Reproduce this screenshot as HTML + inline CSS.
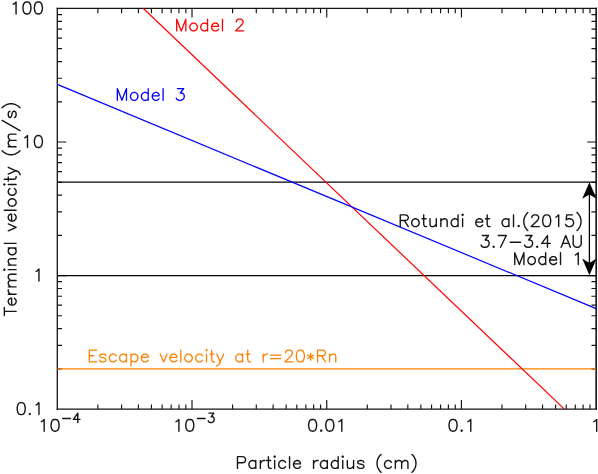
<!DOCTYPE html>
<html><head><meta charset="utf-8"><title>Terminal velocity vs particle radius</title>
<style>html,body{margin:0;padding:0;background:#fff;}body{width:598px;height:474px;overflow:hidden;font-family:"Liberation Sans",sans-serif;}svg{display:block;}</style>
</head><body>
<svg width="598" height="474" viewBox="0 0 598 474">
<rect width="598" height="474" fill="#fff"/>
<path d="M97.85 8.45v4.7M97.85 409.1v-4.7M121.57 8.45v4.7M121.57 409.1v-4.7M138.41 8.45v4.7M138.41 409.1v-4.7M151.46 8.45v4.7M151.46 409.1v-4.7M162.13 8.45v4.7M162.13 409.1v-4.7M171.15 8.45v4.7M171.15 409.1v-4.7M178.96 8.45v4.7M178.96 409.1v-4.7M185.85 8.45v4.7M185.85 409.1v-4.7M192.01 8.45v9.0M192.01 409.1v-9.0M232.57 8.45v4.7M232.57 409.1v-4.7M256.29 8.45v4.7M256.29 409.1v-4.7M273.12 8.45v4.7M273.12 409.1v-4.7M286.17 8.45v4.7M286.17 409.1v-4.7M296.84 8.45v4.7M296.84 409.1v-4.7M305.86 8.45v4.7M305.86 409.1v-4.7M313.67 8.45v4.7M313.67 409.1v-4.7M320.56 8.45v4.7M320.56 409.1v-4.7M326.73 8.45v9.0M326.73 409.1v-9.0M367.28 8.45v4.7M367.28 409.1v-4.7M391.00 8.45v4.7M391.00 409.1v-4.7M407.83 8.45v4.7M407.83 409.1v-4.7M420.88 8.45v4.7M420.88 409.1v-4.7M431.55 8.45v4.7M431.55 409.1v-4.7M440.57 8.45v4.7M440.57 409.1v-4.7M448.38 8.45v4.7M448.38 409.1v-4.7M455.27 8.45v4.7M455.27 409.1v-4.7M461.44 8.45v9.0M461.44 409.1v-9.0M501.99 8.45v4.7M501.99 409.1v-4.7M525.71 8.45v4.7M525.71 409.1v-4.7M542.54 8.45v4.7M542.54 409.1v-4.7M555.60 8.45v4.7M555.60 409.1v-4.7M566.26 8.45v4.7M566.26 409.1v-4.7M575.28 8.45v4.7M575.28 409.1v-4.7M583.10 8.45v4.7M583.10 409.1v-4.7M589.99 8.45v4.7M589.99 409.1v-4.7M57.3 368.90h4.7M596.15 368.90h-4.7M57.3 345.38h4.7M596.15 345.38h-4.7M57.3 328.69h4.7M596.15 328.69h-4.7M57.3 315.75h4.7M596.15 315.75h-4.7M57.3 305.18h4.7M596.15 305.18h-4.7M57.3 296.24h4.7M596.15 296.24h-4.7M57.3 288.49h4.7M596.15 288.49h-4.7M57.3 281.66h4.7M596.15 281.66h-4.7M57.3 275.55h9.0M596.15 275.55h-9.0M57.3 235.35h4.7M596.15 235.35h-4.7M57.3 211.83h4.7M596.15 211.83h-4.7M57.3 195.14h4.7M596.15 195.14h-4.7M57.3 182.20h4.7M596.15 182.20h-4.7M57.3 171.63h4.7M596.15 171.63h-4.7M57.3 162.69h4.7M596.15 162.69h-4.7M57.3 154.94h4.7M596.15 154.94h-4.7M57.3 148.11h4.7M596.15 148.11h-4.7M57.3 142.00h9.0M596.15 142.00h-9.0M57.3 101.80h4.7M596.15 101.80h-4.7M57.3 78.28h4.7M596.15 78.28h-4.7M57.3 61.59h4.7M596.15 61.59h-4.7M57.3 48.65h4.7M596.15 48.65h-4.7M57.3 38.08h4.7M596.15 38.08h-4.7M57.3 29.14h4.7M596.15 29.14h-4.7M57.3 21.39h4.7M596.15 21.39h-4.7M57.3 14.56h4.7M596.15 14.56h-4.7" fill="none" stroke="#141414" stroke-width="1.15"/>
<path d="M57.3 7.85V409.75" fill="none" stroke="#141414" stroke-width="1.3"/>
<path d="M596.15 7.85V409.75" fill="none" stroke="#141414" stroke-width="1.6"/>
<path d="M56.65 8.45H596.9499999999999" fill="none" stroke="#141414" stroke-width="1.2"/>
<path d="M56.65 409.1H596.9499999999999" fill="none" stroke="#141414" stroke-width="1.3"/>
<g fill="none" stroke-linecap="butt">
<line x1="57.3" y1="182.2" x2="596.15" y2="182.2" stroke="#000" stroke-width="1.25"/>
<line x1="57.3" y1="275.55" x2="596.15" y2="275.55" stroke="#000" stroke-width="1.25"/>
<line x1="57.3" y1="368.9" x2="596.15" y2="368.9" stroke="#ff8000" stroke-width="1.4"/>
<line x1="143.4" y1="8.45" x2="564.4" y2="409.1" stroke="#ff0000" stroke-width="1.2"/>
<line x1="57.3" y1="84.4" x2="596.15" y2="308.65" stroke="#0000ff" stroke-width="1.2"/>
</g>
<line x1="589.4" y1="190" x2="589.4" y2="268" stroke="#000" stroke-width="1.3"/>
<path d="M589.4 182.3 L582.1999999999999 198.8 L589.4 194.4 L596.6 198.8Z" fill="#000"/>
<path d="M589.4 275.2 L582.1999999999999 258.4 L589.4 263.1 L596.6 258.4Z" fill="#000"/>
<path d="M16.07 13.97 L16.07 1.96 L14.36 3.67 L13.21 4.25M22.94 8.82 L23.51 11.68 L24.65 13.40 L26.37 13.97 L27.51 13.97 L29.23 13.40 L30.37 11.68 L30.94 8.82 L30.94 7.11 L30.37 4.25 L29.23 2.53 L27.51 1.96 L26.37 1.96 L24.65 2.53 L23.51 4.25 L22.94 7.11 L22.94 8.82M34.38 8.82 L34.95 11.68 L36.09 13.40 L37.81 13.97 L38.95 13.97 L40.67 13.40 L41.81 11.68 L42.38 8.82 L42.38 7.11 L41.81 4.25 L40.67 2.53 L38.95 1.96 L37.81 1.96 L36.09 2.53 L34.95 4.25 L34.38 7.11 L34.38 8.82" fill="none" stroke="#151515" stroke-width="1.4" stroke-linecap="round" stroke-linejoin="round"/>
<path d="M27.51 147.52 L27.51 135.51 L25.80 137.22 L24.65 137.80M34.38 142.37 L34.95 145.23 L36.09 146.95 L37.81 147.52 L38.95 147.52 L40.67 146.95 L41.81 145.23 L42.38 142.37 L42.38 140.66 L41.81 137.80 L40.67 136.08 L38.95 135.51 L37.81 135.51 L36.09 136.08 L34.95 137.80 L34.38 140.66 L34.38 142.37" fill="none" stroke="#151515" stroke-width="1.4" stroke-linecap="round" stroke-linejoin="round"/>
<path d="M38.95 281.07 L38.95 269.06 L37.24 270.77 L36.09 271.35" fill="none" stroke="#151515" stroke-width="1.4" stroke-linecap="round" stroke-linejoin="round"/>
<path d="M17.22 409.47 L17.79 412.33 L18.93 414.05 L20.65 414.62 L21.79 414.62 L23.51 414.05 L24.65 412.33 L25.22 409.47 L25.22 407.76 L24.65 404.90 L23.51 403.18 L21.79 402.61 L20.65 402.61 L18.93 403.18 L17.79 404.90 L17.22 407.76 L17.22 409.47M29.23 414.05 L29.80 414.62 L30.37 414.05 L29.80 413.48 L29.23 414.05M38.95 414.62 L38.95 402.61 L37.24 404.32 L36.09 404.90" fill="none" stroke="#151515" stroke-width="1.4" stroke-linecap="round" stroke-linejoin="round"/>
<path d="M308.62 426.16 L309.19 428.96 L310.34 430.64 L312.05 431.20 L313.20 431.20 L314.91 430.64 L316.06 428.96 L316.63 426.16 L316.63 424.48 L316.06 421.68 L314.91 420.00 L313.20 419.44 L312.05 419.44 L310.34 420.00 L309.19 421.68 L308.62 424.48 L308.62 426.16M320.63 430.64 L321.21 431.20 L321.78 430.64 L321.21 430.08 L320.63 430.64M325.78 426.16 L326.35 428.96 L327.50 430.64 L329.21 431.20 L330.36 431.20 L332.07 430.64 L333.22 428.96 L333.79 426.16 L333.79 424.48 L333.22 421.68 L332.07 420.00 L330.36 419.44 L329.21 419.44 L327.50 420.00 L326.35 421.68 L325.78 424.48 L325.78 426.16M341.80 431.20 L341.80 419.44 L340.08 421.12 L338.94 421.68" fill="none" stroke="#151515" stroke-width="1.4" stroke-linecap="round" stroke-linejoin="round"/>
<path d="M449.05 426.16 L449.63 428.96 L450.77 430.64 L452.49 431.20 L453.63 431.20 L455.35 430.64 L456.49 428.96 L457.06 426.16 L457.06 424.48 L456.49 421.68 L455.35 420.00 L453.63 419.44 L452.49 419.44 L450.77 420.00 L449.63 421.68 L449.05 424.48 L449.05 426.16M461.07 430.64 L461.64 431.20 L462.21 430.64 L461.64 430.08 L461.07 430.64M470.79 431.20 L470.79 419.44 L469.07 421.12 L467.93 421.68" fill="none" stroke="#151515" stroke-width="1.4" stroke-linecap="round" stroke-linejoin="round"/>
<path d="M596.67 431.20 L596.67 419.44 L594.96 421.12 L593.81 421.68" fill="none" stroke="#151515" stroke-width="1.4" stroke-linecap="round" stroke-linejoin="round"/>
<path d="M44.19 431.20 L44.19 419.44 L42.48 421.12 L41.33 421.68M51.06 426.16 L51.63 428.96 L52.77 430.64 L54.49 431.20 L55.63 431.20 L57.35 430.64 L58.49 428.96 L59.06 426.16 L59.06 424.48 L58.49 421.68 L57.35 420.00 L55.63 419.44 L54.49 419.44 L52.77 420.00 L51.63 421.68 L51.06 424.48 L51.06 426.16" fill="none" stroke="#151515" stroke-width="1.4" stroke-linecap="round" stroke-linejoin="round"/>
<path d="M62.66 418.52 L70.43 418.52M77.77 422.55 L77.77 413.14 L73.45 419.41 L79.93 419.41" fill="none" stroke="#151515" stroke-width="1.4" stroke-linecap="round" stroke-linejoin="round"/>
<path d="M178.90 431.20 L178.90 419.44 L177.19 421.12 L176.04 421.68M185.77 426.16 L186.34 428.96 L187.48 430.64 L189.20 431.20 L190.34 431.20 L192.06 430.64 L193.20 428.96 L193.78 426.16 L193.78 424.48 L193.20 421.68 L192.06 420.00 L190.34 419.44 L189.20 419.44 L187.48 420.00 L186.34 421.68 L185.77 424.48 L185.77 426.16" fill="none" stroke="#151515" stroke-width="1.4" stroke-linecap="round" stroke-linejoin="round"/>
<path d="M197.37 418.52 L205.14 418.52M209.03 413.14 L213.78 413.14 L211.19 416.73 L212.49 416.73 L213.35 417.17 L213.78 417.62 L214.21 418.97 L214.21 419.86 L213.78 421.21 L212.92 422.10 L211.62 422.55 L210.33 422.55 L209.03 422.10 L208.60 421.65 L208.17 420.76" fill="none" stroke="#151515" stroke-width="1.4" stroke-linecap="round" stroke-linejoin="round"/>
<path d="M237.49 468.40 L237.49 456.64 L242.64 456.64 L244.35 457.20 L244.92 457.76 L245.50 458.88 L245.50 460.56 L244.92 461.68 L244.35 462.24 L242.64 462.80 L237.49 462.80M255.79 468.40 L255.79 460.56M255.79 466.72 L254.65 467.84 L253.50 468.40 L251.79 468.40 L250.64 467.84 L249.50 466.72 L248.93 465.04 L248.93 463.92 L249.50 462.24 L250.64 461.12 L251.79 460.56 L253.50 460.56 L254.65 461.12 L255.79 462.24M260.37 468.40 L260.37 460.56M260.37 463.92 L260.94 462.24 L262.08 461.12 L263.23 460.56 L264.94 460.56M268.38 456.64 L268.38 466.16 L268.95 467.84 L270.09 468.40 L271.24 468.40M266.66 460.56 L270.66 460.56M274.67 468.40 L274.67 460.56M274.10 456.64 L274.67 457.20 L275.24 456.64 L274.67 456.08 L274.10 456.64M285.54 466.72 L284.39 467.84 L283.25 468.40 L281.53 468.40 L280.39 467.84 L279.24 466.72 L278.67 465.04 L278.67 463.92 L279.24 462.24 L280.39 461.12 L281.53 460.56 L283.25 460.56 L284.39 461.12 L285.54 462.24M289.54 468.40 L289.54 456.64M300.41 466.72 L299.26 467.84 L298.12 468.40 L296.40 468.40 L295.26 467.84 L294.12 466.72 L293.54 465.04 L293.54 463.92 L300.41 463.92 L300.41 462.80 L299.84 461.68 L299.26 461.12 L298.12 460.56 L296.40 460.56 L295.26 461.12 L294.12 462.24 L293.54 463.92M313.56 468.40 L313.56 460.56M313.56 463.92 L314.14 462.24 L315.28 461.12 L316.42 460.56 L318.14 460.56M327.29 468.40 L327.29 460.56M327.29 466.72 L326.15 467.84 L325.00 468.40 L323.29 468.40 L322.14 467.84 L321.00 466.72 L320.43 465.04 L320.43 463.92 L321.00 462.24 L322.14 461.12 L323.29 460.56 L325.00 460.56 L326.15 461.12 L327.29 462.24M338.16 468.40 L338.16 456.64M338.16 466.72 L337.02 467.84 L335.87 468.40 L334.16 468.40 L333.01 467.84 L331.87 466.72 L331.30 465.04 L331.30 463.92 L331.87 462.24 L333.01 461.12 L334.16 460.56 L335.87 460.56 L337.02 461.12 L338.16 462.24M342.74 468.40 L342.74 460.56M342.16 456.64 L342.74 457.20 L343.31 456.64 L342.74 456.08 L342.16 456.64M353.60 468.40 L353.60 460.56M347.31 460.56 L347.31 466.16 L347.88 467.84 L349.03 468.40 L350.74 468.40 L351.89 467.84 L353.60 466.16M357.61 466.72 L358.18 467.84 L359.90 468.40 L361.61 468.40 L363.33 467.84 L363.90 466.72 L363.90 466.16 L363.33 465.04 L362.18 464.48 L359.32 463.92 L358.18 463.36 L357.61 462.24 L358.18 461.12 L359.90 460.56 L361.61 460.56 L363.33 461.12 L363.90 462.24M381.06 472.32 L379.92 471.20 L378.77 469.52 L377.63 467.28 L377.06 464.48 L377.06 462.24 L377.63 459.44 L378.77 457.20 L379.92 455.52 L381.06 454.40M391.36 466.72 L390.21 467.84 L389.07 468.40 L387.35 468.40 L386.21 467.84 L385.06 466.72 L384.49 465.04 L384.49 463.92 L385.06 462.24 L386.21 461.12 L387.35 460.56 L389.07 460.56 L390.21 461.12 L391.36 462.24M395.36 468.40 L395.36 460.56M401.65 468.40 L401.65 462.80 L403.37 461.12 L404.51 460.56 L406.23 460.56 L407.37 461.12 L407.94 462.80 L407.94 468.40M395.36 462.80 L397.08 461.12 L398.22 460.56 L399.94 460.56 L401.08 461.12 L401.65 462.80M411.95 472.32 L413.09 471.20 L414.24 469.52 L415.38 467.28 L415.95 464.48 L415.95 462.24 L415.38 459.44 L414.24 457.20 L413.09 455.52 L411.95 454.40" fill="none" stroke="#151515" stroke-width="1.4" stroke-linecap="round" stroke-linejoin="round"/>
<path d="M4.58 0.00 L4.58 -11.76M0.57 -11.76 L8.58 -11.76M17.73 -1.68 L16.59 -0.56 L15.44 0.00 L13.73 0.00 L12.58 -0.56 L11.44 -1.68 L10.87 -3.36 L10.87 -4.48 L17.73 -4.48 L17.73 -5.60 L17.16 -6.72 L16.59 -7.28 L15.44 -7.84 L13.73 -7.84 L12.58 -7.28 L11.44 -6.16 L10.87 -4.48M21.74 0.00 L21.74 -7.84M21.74 -4.48 L22.31 -6.16 L23.45 -7.28 L24.60 -7.84 L26.31 -7.84M29.17 0.00 L29.17 -7.84M35.46 0.00 L35.46 -5.60 L37.18 -7.28 L38.32 -7.84 L40.04 -7.84 L41.18 -7.28 L41.76 -5.60 L41.76 0.00M29.17 -5.60 L30.89 -7.28 L32.03 -7.84 L33.75 -7.84 L34.89 -7.28 L35.46 -5.60M46.33 0.00 L46.33 -7.84M45.76 -11.76 L46.33 -11.20 L46.90 -11.76 L46.33 -12.32 L45.76 -11.76M50.91 0.00 L50.91 -7.84M57.20 0.00 L57.20 -5.60 L56.63 -7.28 L55.48 -7.84 L53.77 -7.84 L52.62 -7.28 L50.91 -5.60M68.07 0.00 L68.07 -7.84M68.07 -1.68 L66.92 -0.56 L65.78 0.00 L64.06 0.00 L62.92 -0.56 L61.78 -1.68 L61.20 -3.36 L61.20 -4.48 L61.78 -6.16 L62.92 -7.28 L64.06 -7.84 L65.78 -7.84 L66.92 -7.28 L68.07 -6.16M72.64 0.00 L72.64 -11.76M85.23 -7.84 L88.66 0.00 L92.09 -7.84M101.82 -1.68 L100.67 -0.56 L99.53 0.00 L97.81 0.00 L96.67 -0.56 L95.52 -1.68 L94.95 -3.36 L94.95 -4.48 L101.82 -4.48 L101.82 -5.60 L101.24 -6.72 L100.67 -7.28 L99.53 -7.84 L97.81 -7.84 L96.67 -7.28 L95.52 -6.16 L94.95 -4.48M105.82 0.00 L105.82 -11.76M109.82 -3.36 L110.40 -1.68 L111.54 -0.56 L112.68 0.00 L114.40 0.00 L115.54 -0.56 L116.69 -1.68 L117.26 -3.36 L117.26 -4.48 L116.69 -6.16 L115.54 -7.28 L114.40 -7.84 L112.68 -7.84 L111.54 -7.28 L110.40 -6.16 L109.82 -4.48 L109.82 -3.36M127.56 -1.68 L126.41 -0.56 L125.27 0.00 L123.55 0.00 L122.41 -0.56 L121.26 -1.68 L120.69 -3.36 L120.69 -4.48 L121.26 -6.16 L122.41 -7.28 L123.55 -7.84 L125.27 -7.84 L126.41 -7.28 L127.56 -6.16M131.56 0.00 L131.56 -7.84M130.99 -11.76 L131.56 -11.20 L132.13 -11.76 L131.56 -12.32 L130.99 -11.76M136.71 -11.76 L136.71 -2.24 L137.28 -0.56 L138.42 0.00 L139.57 0.00M134.99 -7.84 L139.00 -7.84M144.72 1.12 L148.72 -7.84M141.86 -7.84 L145.29 0.00 L144.14 2.24 L143.00 3.36 L141.86 3.92 L141.28 3.92M165.31 3.92 L164.16 2.80 L163.02 1.12 L161.88 -1.12 L161.30 -3.92 L161.30 -6.16 L161.88 -8.96 L163.02 -11.20 L164.16 -12.88 L165.31 -14.00M169.31 0.00 L169.31 -7.84M175.60 0.00 L175.60 -5.60 L177.32 -7.28 L178.46 -7.84 L180.18 -7.84 L181.32 -7.28 L181.90 -5.60 L181.90 0.00M169.31 -5.60 L171.03 -7.28 L172.17 -7.84 L173.89 -7.84 L175.03 -7.28 L175.60 -5.60M185.33 3.92 L195.62 -14.00M198.48 -1.68 L199.06 -0.56 L200.77 0.00 L202.49 0.00 L204.20 -0.56 L204.78 -1.68 L204.78 -2.24 L204.20 -3.36 L203.06 -3.92 L200.20 -4.48 L199.06 -5.04 L198.48 -6.16 L199.06 -7.28 L200.77 -7.84 L202.49 -7.84 L204.20 -7.28 L204.78 -6.16M208.21 3.92 L209.35 2.80 L210.50 1.12 L211.64 -1.12 L212.21 -3.92 L212.21 -6.16 L211.64 -8.96 L210.50 -11.20 L209.35 -12.88 L208.21 -14.00" transform="translate(16.1 316.0) rotate(-90)" fill="none" stroke="#151515" stroke-width="1.4" stroke-linecap="round" stroke-linejoin="round"/>
<path d="M176.69 30.90 L176.69 19.14 L181.26 30.90 L185.84 19.14 L185.84 30.90M189.84 27.54 L190.42 29.22 L191.56 30.34 L192.70 30.90 L194.42 30.90 L195.56 30.34 L196.71 29.22 L197.28 27.54 L197.28 26.42 L196.71 24.74 L195.56 23.62 L194.42 23.06 L192.70 23.06 L191.56 23.62 L190.42 24.74 L189.84 26.42 L189.84 27.54M207.58 30.90 L207.58 19.14M207.58 29.22 L206.43 30.34 L205.29 30.90 L203.57 30.90 L202.43 30.34 L201.28 29.22 L200.71 27.54 L200.71 26.42 L201.28 24.74 L202.43 23.62 L203.57 23.06 L205.29 23.06 L206.43 23.62 L207.58 24.74M218.44 29.22 L217.30 30.34 L216.16 30.90 L214.44 30.90 L213.30 30.34 L212.15 29.22 L211.58 27.54 L211.58 26.42 L218.44 26.42 L218.44 25.30 L217.87 24.18 L217.30 23.62 L216.16 23.06 L214.44 23.06 L213.30 23.62 L212.15 24.74 L211.58 26.42M222.45 30.90 L222.45 19.14M243.61 30.90 L235.60 30.90 L241.32 25.30 L242.47 23.62 L243.04 22.50 L243.04 21.38 L242.47 20.26 L241.90 19.70 L240.75 19.14 L238.46 19.14 L237.32 19.70 L236.75 20.26 L236.18 21.38 L236.18 21.94" fill="none" stroke="#ff0000" stroke-width="1.3" stroke-linecap="round" stroke-linejoin="round"/>
<path d="M117.34 100.30 L117.34 88.54 L121.91 100.30 L126.49 88.54 L126.49 100.30M130.49 96.94 L131.07 98.62 L132.21 99.74 L133.35 100.30 L135.07 100.30 L136.21 99.74 L137.36 98.62 L137.93 96.94 L137.93 95.82 L137.36 94.14 L136.21 93.02 L135.07 92.46 L133.35 92.46 L132.21 93.02 L131.07 94.14 L130.49 95.82 L130.49 96.94M148.23 100.30 L148.23 88.54M148.23 98.62 L147.08 99.74 L145.94 100.30 L144.22 100.30 L143.08 99.74 L141.93 98.62 L141.36 96.94 L141.36 95.82 L141.93 94.14 L143.08 93.02 L144.22 92.46 L145.94 92.46 L147.08 93.02 L148.23 94.14M159.09 98.62 L157.95 99.74 L156.81 100.30 L155.09 100.30 L153.95 99.74 L152.80 98.62 L152.23 96.94 L152.23 95.82 L159.09 95.82 L159.09 94.70 L158.52 93.58 L157.95 93.02 L156.81 92.46 L155.09 92.46 L153.95 93.02 L152.80 94.14 L152.23 95.82M163.10 100.30 L163.10 88.54M177.40 88.54 L183.69 88.54 L180.26 93.02 L181.97 93.02 L183.12 93.58 L183.69 94.14 L184.26 95.82 L184.26 96.94 L183.69 98.62 L182.55 99.74 L180.83 100.30 L179.11 100.30 L177.40 99.74 L176.83 99.18 L176.25 98.06" fill="none" stroke="#0000ff" stroke-width="1.3" stroke-linecap="round" stroke-linejoin="round"/>
<path d="M96.72 361.90 L89.29 361.90 L89.29 350.14 L96.72 350.14M89.29 355.74 L93.86 355.74M99.58 360.22 L100.16 361.34 L101.87 361.90 L103.59 361.90 L105.30 361.34 L105.88 360.22 L105.88 359.66 L105.30 358.54 L104.16 357.98 L101.30 357.42 L100.16 356.86 L99.58 355.74 L100.16 354.62 L101.87 354.06 L103.59 354.06 L105.30 354.62 L105.88 355.74M116.17 360.22 L115.03 361.34 L113.88 361.90 L112.17 361.90 L111.02 361.34 L109.88 360.22 L109.31 358.54 L109.31 357.42 L109.88 355.74 L111.02 354.62 L112.17 354.06 L113.88 354.06 L115.03 354.62 L116.17 355.74M126.47 361.90 L126.47 354.06M126.47 360.22 L125.32 361.34 L124.18 361.90 L122.46 361.90 L121.32 361.34 L120.18 360.22 L119.60 358.54 L119.60 357.42 L120.18 355.74 L121.32 354.62 L122.46 354.06 L124.18 354.06 L125.32 354.62 L126.47 355.74M131.04 365.82 L131.04 354.06M131.04 360.22 L132.19 361.34 L133.33 361.90 L135.05 361.90 L136.19 361.34 L137.34 360.22 L137.91 358.54 L137.91 357.42 L137.34 355.74 L136.19 354.62 L135.05 354.06 L133.33 354.06 L132.19 354.62 L131.04 355.74M148.20 360.22 L147.06 361.34 L145.92 361.90 L144.20 361.90 L143.06 361.34 L141.91 360.22 L141.34 358.54 L141.34 357.42 L148.20 357.42 L148.20 356.30 L147.63 355.18 L147.06 354.62 L145.92 354.06 L144.20 354.06 L143.06 354.62 L141.91 355.74 L141.34 357.42M160.22 354.06 L163.65 361.90 L167.08 354.06M176.80 360.22 L175.66 361.34 L174.52 361.90 L172.80 361.90 L171.66 361.34 L170.51 360.22 L169.94 358.54 L169.94 357.42 L176.80 357.42 L176.80 356.30 L176.23 355.18 L175.66 354.62 L174.52 354.06 L172.80 354.06 L171.66 354.62 L170.51 355.74 L169.94 357.42M180.81 361.90 L180.81 350.14M184.81 358.54 L185.38 360.22 L186.53 361.34 L187.67 361.90 L189.39 361.90 L190.53 361.34 L191.68 360.22 L192.25 358.54 L192.25 357.42 L191.68 355.74 L190.53 354.62 L189.39 354.06 L187.67 354.06 L186.53 354.62 L185.38 355.74 L184.81 357.42 L184.81 358.54M202.54 360.22 L201.40 361.34 L200.26 361.90 L198.54 361.90 L197.40 361.34 L196.25 360.22 L195.68 358.54 L195.68 357.42 L196.25 355.74 L197.40 354.62 L198.54 354.06 L200.26 354.06 L201.40 354.62 L202.54 355.74M206.55 361.90 L206.55 354.06M205.98 350.14 L206.55 350.70 L207.12 350.14 L206.55 349.58 L205.98 350.14M211.70 350.14 L211.70 359.66 L212.27 361.34 L213.41 361.90 L214.56 361.90M209.98 354.06 L213.98 354.06M219.70 363.02 L223.71 354.06M216.84 354.06 L220.28 361.90 L219.13 364.14 L217.99 365.26 L216.84 365.82 L216.27 365.82M242.58 361.90 L242.58 354.06M242.58 360.22 L241.44 361.34 L240.30 361.90 L238.58 361.90 L237.44 361.34 L236.29 360.22 L235.72 358.54 L235.72 357.42 L236.29 355.74 L237.44 354.62 L238.58 354.06 L240.30 354.06 L241.44 354.62 L242.58 355.74M247.73 350.14 L247.73 359.66 L248.30 361.34 L249.45 361.90 L250.59 361.90M246.02 354.06 L250.02 354.06M263.18 361.90 L263.18 354.06M263.18 357.42 L263.75 355.74 L264.89 354.62 L266.04 354.06 L267.75 354.06M270.61 358.54 L280.91 358.54M270.61 355.18 L280.91 355.18M292.92 361.90 L284.91 361.90 L290.63 356.30 L291.78 354.62 L292.35 353.50 L292.35 352.38 L291.78 351.26 L291.20 350.70 L290.06 350.14 L287.77 350.14 L286.63 350.70 L286.06 351.26 L285.48 352.38 L285.48 352.94M296.35 356.86 L296.92 359.66 L298.07 361.34 L299.78 361.90 L300.93 361.90 L302.64 361.34 L303.79 359.66 L304.36 356.86 L304.36 355.18 L303.79 352.38 L302.64 350.70 L300.93 350.14 L299.78 350.14 L298.07 350.70 L296.92 352.38 L296.35 355.18 L296.35 356.86M310.65 360.22 L310.65 353.50M307.79 358.54 L313.51 355.18M307.79 355.18 L313.51 358.54M317.52 361.90 L317.52 350.14 L322.66 350.14 L324.38 350.70 L324.95 351.26 L325.52 352.38 L325.52 353.50 L324.95 354.62 L324.38 355.18 L322.66 355.74 L317.52 355.74M321.52 355.74 L325.52 361.90M329.53 361.90 L329.53 354.06M335.82 361.90 L335.82 356.30 L335.25 354.62 L334.10 354.06 L332.39 354.06 L331.24 354.62 L329.53 356.30" fill="none" stroke="#ff8000" stroke-width="1.3" stroke-linecap="round" stroke-linejoin="round"/>
<path d="M400.26 226.60 L400.26 214.84 L405.41 214.84 L407.12 215.40 L407.70 215.96 L408.27 217.08 L408.27 218.20 L407.70 219.32 L407.12 219.88 L405.41 220.44 L400.26 220.44M404.26 220.44 L408.27 226.60M411.70 223.24 L412.27 224.92 L413.42 226.04 L414.56 226.60 L416.28 226.60 L417.42 226.04 L418.56 224.92 L419.14 223.24 L419.14 222.12 L418.56 220.44 L417.42 219.32 L416.28 218.76 L414.56 218.76 L413.42 219.32 L412.27 220.44 L411.70 222.12 L411.70 223.24M423.71 214.84 L423.71 224.36 L424.28 226.04 L425.43 226.60 L426.57 226.60M422.00 218.76 L426.00 218.76M436.30 226.60 L436.30 218.76M430.00 218.76 L430.00 224.36 L430.58 226.04 L431.72 226.60 L433.44 226.60 L434.58 226.04 L436.30 224.36M440.87 226.60 L440.87 218.76M447.16 226.60 L447.16 221.00 L446.59 219.32 L445.45 218.76 L443.73 218.76 L442.59 219.32 L440.87 221.00M458.03 226.60 L458.03 214.84M458.03 224.92 L456.89 226.04 L455.74 226.60 L454.03 226.60 L452.88 226.04 L451.74 224.92 L451.17 223.24 L451.17 222.12 L451.74 220.44 L452.88 219.32 L454.03 218.76 L455.74 218.76 L456.89 219.32 L458.03 220.44M462.61 226.60 L462.61 218.76M462.04 214.84 L462.61 215.40 L463.18 214.84 L462.61 214.28 L462.04 214.84M482.63 224.92 L481.48 226.04 L480.34 226.60 L478.62 226.60 L477.48 226.04 L476.34 224.92 L475.76 223.24 L475.76 222.12 L482.63 222.12 L482.63 221.00 L482.06 219.88 L481.48 219.32 L480.34 218.76 L478.62 218.76 L477.48 219.32 L476.34 220.44 L475.76 222.12M487.20 214.84 L487.20 224.36 L487.78 226.04 L488.92 226.60 L490.06 226.60M485.49 218.76 L489.49 218.76M508.94 226.60 L508.94 218.76M508.94 224.92 L507.80 226.04 L506.65 226.60 L504.94 226.60 L503.79 226.04 L502.65 224.92 L502.08 223.24 L502.08 222.12 L502.65 220.44 L503.79 219.32 L504.94 218.76 L506.65 218.76 L507.80 219.32 L508.94 220.44M513.52 226.60 L513.52 214.84M518.09 226.04 L518.66 226.60 L519.24 226.04 L518.66 225.48 L518.09 226.04M527.82 230.52 L526.67 229.40 L525.53 227.72 L524.38 225.48 L523.81 222.68 L523.81 220.44 L524.38 217.64 L525.53 215.40 L526.67 213.72 L527.82 212.60M539.26 226.60 L531.25 226.60 L536.97 221.00 L538.11 219.32 L538.68 218.20 L538.68 217.08 L538.11 215.96 L537.54 215.40 L536.40 214.84 L534.11 214.84 L532.96 215.40 L532.39 215.96 L531.82 217.08 L531.82 217.64M542.69 221.56 L543.26 224.36 L544.40 226.04 L546.12 226.60 L547.26 226.60 L548.98 226.04 L550.12 224.36 L550.70 221.56 L550.70 219.88 L550.12 217.08 L548.98 215.40 L547.26 214.84 L546.12 214.84 L544.40 215.40 L543.26 217.08 L542.69 219.88 L542.69 221.56M558.70 226.60 L558.70 214.84 L556.99 216.52 L555.84 217.08M572.43 214.84 L566.71 214.84 L566.14 219.88 L566.71 219.32 L568.43 218.76 L570.14 218.76 L571.86 219.32 L573.00 220.44 L573.58 222.12 L573.58 223.24 L573.00 224.92 L571.86 226.04 L570.14 226.60 L568.43 226.60 L566.71 226.04 L566.14 225.48 L565.57 224.36M577.01 230.52 L578.15 229.40 L579.30 227.72 L580.44 225.48 L581.01 222.68 L581.01 220.44 L580.44 217.64 L579.30 215.40 L578.15 213.72 L577.01 212.60" fill="none" stroke="#151515" stroke-width="1.4" stroke-linecap="round" stroke-linejoin="round"/>
<path d="M482.26 235.54 L488.55 235.54 L485.12 240.02 L486.83 240.02 L487.98 240.58 L488.55 241.14 L489.12 242.82 L489.12 243.94 L488.55 245.62 L487.40 246.74 L485.69 247.30 L483.97 247.30 L482.26 246.74 L481.68 246.18 L481.11 245.06M493.12 246.74 L493.70 247.30 L494.27 246.74 L493.70 246.18 L493.12 246.74M500.56 247.30 L506.28 235.54 L498.27 235.54M510.28 242.26 L520.58 242.26M525.73 235.54 L532.02 235.54 L528.59 240.02 L530.30 240.02 L531.45 240.58 L532.02 241.14 L532.59 242.82 L532.59 243.94 L532.02 245.62 L530.88 246.74 L529.16 247.30 L527.44 247.30 L525.73 246.74 L525.16 246.18 L524.58 245.06M536.60 246.74 L537.17 247.30 L537.74 246.74 L537.17 246.18 L536.60 246.74M547.46 247.30 L547.46 235.54 L541.74 243.38 L550.32 243.38M561.19 247.30 L565.77 235.54 L570.34 247.30M562.91 243.38 L568.63 243.38M573.20 235.54 L573.20 243.94 L573.78 245.62 L574.92 246.74 L576.64 247.30 L577.78 247.30 L579.50 246.74 L580.64 245.62 L581.21 243.94 L581.21 235.54" fill="none" stroke="#151515" stroke-width="1.4" stroke-linecap="round" stroke-linejoin="round"/>
<path d="M514.76 264.50 L514.76 252.74 L519.34 264.50 L523.91 252.74 L523.91 264.50M527.92 261.14 L528.49 262.82 L529.63 263.94 L530.78 264.50 L532.49 264.50 L533.64 263.94 L534.78 262.82 L535.35 261.14 L535.35 260.02 L534.78 258.34 L533.64 257.22 L532.49 256.66 L530.78 256.66 L529.63 257.22 L528.49 258.34 L527.92 260.02 L527.92 261.14M545.65 264.50 L545.65 252.74M545.65 262.82 L544.50 263.94 L543.36 264.50 L541.64 264.50 L540.50 263.94 L539.36 262.82 L538.78 261.14 L538.78 260.02 L539.36 258.34 L540.50 257.22 L541.64 256.66 L543.36 256.66 L544.50 257.22 L545.65 258.34M556.52 262.82 L555.37 263.94 L554.23 264.50 L552.51 264.50 L551.37 263.94 L550.22 262.82 L549.65 261.14 L549.65 260.02 L556.52 260.02 L556.52 258.90 L555.94 257.78 L555.37 257.22 L554.23 256.66 L552.51 256.66 L551.37 257.22 L550.22 258.34 L549.65 260.02M560.52 264.50 L560.52 252.74M578.25 264.50 L578.25 252.74 L576.54 254.42 L575.39 254.98" fill="none" stroke="#151515" stroke-width="1.4" stroke-linecap="round" stroke-linejoin="round"/>
</svg>
</body></html>
